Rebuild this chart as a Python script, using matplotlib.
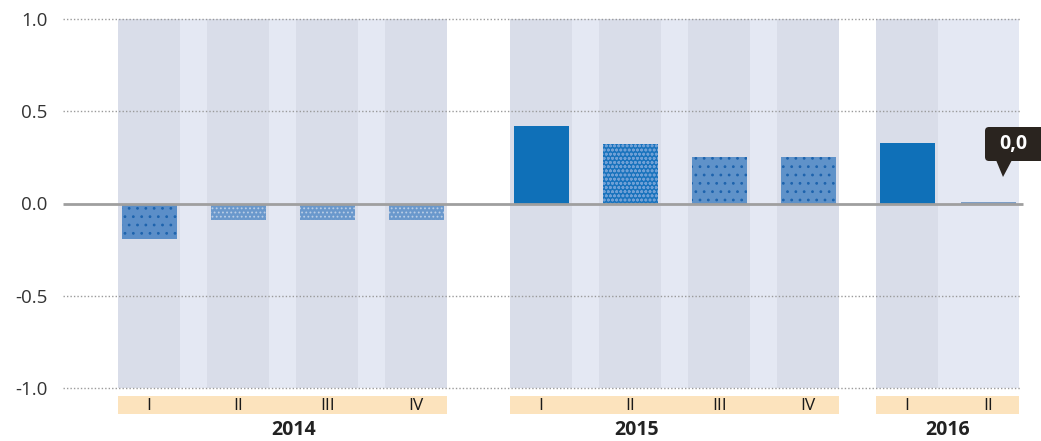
import matplotlib
matplotlib.use("Agg")
import matplotlib.pyplot as plt
from matplotlib.patches import Rectangle, FancyBboxPatch, Polygon
import matplotlib.transforms as mtransforms

# ---------------- data ----------------
years = ["2014", "2015", "2016"]
quarters = [["I", "II", "III", "IV"], ["I", "II", "III", "IV"], ["I", "II"]]
values = [[-0.19, -0.09, -0.09, -0.09], [0.42, 0.32, 0.25, 0.25], [0.33, 0.01]]
yticks = [1.0, 0.5, 0.0, -0.5, -1.0]
ytick_labels = ["1.0", "0.5", "0.0", "-0.5", "-1.0"]
callout_value = 0.0

# ---------------- styles ----------------
bar_colors = [["#5b8ec8", "#6a98cc", "#6a98cc", "#6a98cc"],
              ["#0f70b8", "#1a73bd", "#5f92c9", "#5f92c9"],
              ["#0f70b8", "#7d9ec6"]]
bar_hatch = [["..", "....", "....", "...."],
             [None, "oooo", "..", ".."],
             [None, None]]
hatch_cols = [["#1d63ad", "#b9cde6", "#b9cde6", "#b9cde6"],
              ["#0f70b8", "#6fa0d6", "#1d63ad", "#1d63ad"],
              ["#0f70b8", "#7d9ec6"]]
dark_cols = [[True] * 4, [True] * 4, [True, False]]
group_start = [0.0, 4.404, 8.517]
group_pitch = [1.0, 1.0, 0.915]
year_label_shift = [0.12, -0.42, 0.0]
dark_w = 0.697
bar_off = 0.04
bar_w = 0.62
light_bg = "#e4e8f3"
dark_bg = "#d9dde9"
band_col = "#fce3bd"

plt.rcParams["font.family"] = ["Open Sans", "DejaVu Sans"]
plt.rcParams["hatch.linewidth"] = 0.8

W, H = 1041, 441
AX_TOP, AX_BOT = 19, 388
AX_H = AX_BOT - AX_TOP
fig = plt.figure(figsize=(W / 100, H / 100), dpi=100)
ax = fig.add_axes([63 / W, (H - AX_BOT) / H, (1020 - 63) / W, AX_H / H])
ax.set_xlim(-55 / 89, 902 / 89)
ax.set_ylim(-1.0, 1.0)
for s in ax.spines.values():
    s.set_visible(False)
ax.set_xticks([])
ax.set_yticks(yticks)
ax.set_yticklabels(ytick_labels, fontsize=13.5, color="#333333")
ax.tick_params(axis="y", length=0, pad=11)

trans = mtransforms.blended_transform_factory(ax.transData, ax.transAxes)

def below(pix):
    """axes fraction for a pixel distance below the axes bottom"""
    return -pix / AX_H

for gi, (yr, qs, vals) in enumerate(zip(years, quarters, values)):
    g0 = group_start[gi]
    p = group_pitch[gi]
    g1 = g0 + (len(qs) - 1) * p + dark_w
    ax.add_patch(Rectangle((g0, 0), g1 - g0, 1, transform=trans,
                           facecolor=light_bg, edgecolor="none", zorder=0))
    ax.add_patch(Rectangle((g0, below(26)), g1 - g0, 18 / AX_H, transform=trans,
                           facecolor=band_col, edgecolor="none", zorder=0,
                           clip_on=False))
    for qi, (q, v) in enumerate(zip(qs, vals)):
        x0 = g0 + qi * p
        if dark_cols[gi][qi]:
            ax.add_patch(Rectangle((x0, 0), dark_w, 1, transform=trans,
                                   facecolor=dark_bg, edgecolor="none", zorder=0.5))
        ax.bar(x0 + bar_off, v, width=bar_w, align="edge",
               color=bar_colors[gi][qi], hatch=bar_hatch[gi][qi],
               edgecolor=hatch_cols[gi][qi], linewidth=0, zorder=3)
        ax.text(x0 + bar_off + bar_w / 2, below(17.5), q, transform=trans,
                ha="center", va="center", fontsize=12.5, color="#1a1a1a",
                fontweight="normal", clip_on=False)
    ax.text((g0 + g1) / 2 + year_label_shift[gi], below(42), yr, transform=trans,
            ha="center", va="center", fontsize=14, fontweight="bold",
            color="#222222", clip_on=False)

for yv in yticks:
    if yv != 0:
        ax.axhline(yv, color="#9a9a9a", lw=1.0, ls=(0, (1, 1.5)), zorder=2,
                   clip_on=False)
ax.plot([-55 / 89, 905 / 89], [0, 0], color="#9f9f9f", lw=2, zorder=4,
        clip_on=False, solid_capstyle="butt")

# callout (figure pixel coords)
ft = fig.dpi_scale_trans
def px(x, y):
    return (x / 100, (H - y) / 100)
box = FancyBboxPatch(px(985, 161), (1045 - 985) / 100, (161 - 127) / 100,
                     boxstyle="round,pad=0,rounding_size=0.04",
                     transform=ft, facecolor="#2a241f", edgecolor="none",
                     zorder=10, clip_on=False)
fig.patches.append(box)
tri = Polygon([px(996, 160), px(1012, 160), px(1003, 177)], closed=True,
              transform=ft, facecolor="#2a241f", edgecolor="none", zorder=10)
fig.patches.append(tri)
fig.text(1013 / W, 1 - 144 / H, f"{callout_value:.1f}".replace(".", ","),
         ha="center", va="center", fontsize=14, fontweight="bold",
         color="white", zorder=11)

fig.savefig("out.png", dpi=100)
